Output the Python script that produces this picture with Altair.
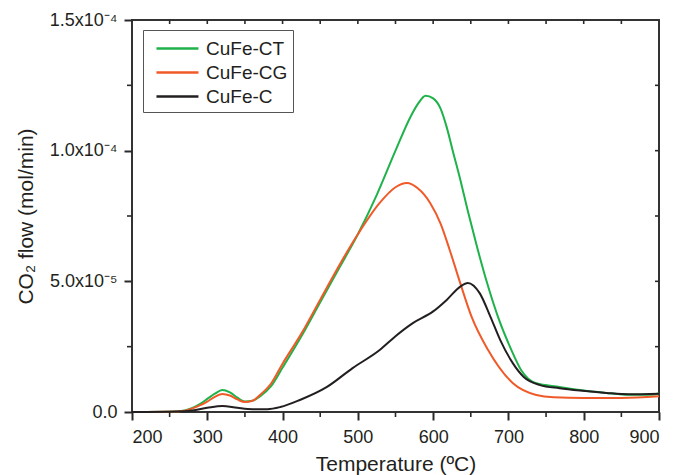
import altair as alt
import pandas as pd

# ---- data (values in 1e-6 mol/min) ----
t_ct = [200, 250, 270, 290, 300, 310, 320, 330, 340, 350, 360, 370, 385, 400, 425, 450, 475, 500,
        525, 550, 570, 580, 590, 600, 610, 618, 626, 636, 646, 658, 671, 686, 704, 717, 737, 768,
        795, 830, 860, 890, 900]
v_ct = [0, 0.1, 0.6, 3, 5, 7, 8.4, 7.5, 5.5, 4, 4.3, 6, 10, 17, 29, 42, 55, 68,
        83, 100, 113, 118, 121, 120, 116, 109, 100, 89, 77, 63.5, 50, 36.5, 23.7, 16, 11, 9.6,
        8.4, 7.3, 6.6, 6.6, 7.2]

t_cg = [200, 250, 270, 290, 300, 310, 320, 330, 340, 350, 360, 370, 385, 400, 425, 450, 475, 500,
        529, 550, 565, 580, 596, 610, 622, 636, 651, 673, 706, 737, 760, 800, 850, 900]
v_cg = [0, 0.1, 0.5, 2.5, 4, 5.8, 6.9, 6.3, 4.8, 3.8, 4.3, 6.5, 11, 18.5, 30, 43, 56, 68,
        80, 86, 87.6, 85.5, 80, 72, 62, 49.3, 36.5, 23.7, 11, 6.5, 5.6, 5.4, 5.4, 6.0]

t_c = [200, 260, 280, 300, 320, 340, 360, 380, 397, 423, 459, 493, 529, 550, 573, 600, 618, 636,
       646, 662, 676, 689, 706, 720, 742, 768, 795, 830, 860, 900]
v_c = [0, 0.2, 0.6, 1.6, 2.3, 1.6, 1.1, 1.1, 1.9, 4.6, 9.6, 16.8, 23.7, 29, 34, 38.5, 42.9, 48,
       49.4, 45.4, 36.5, 27.6, 18.6, 13.5, 10.3, 9.1, 8.2, 7.3, 6.8, 7.0]

series = ["CuFe-CT", "CuFe-CG", "CuFe-C"]
colors = ["#1fb24a", "#f05a28", "#231f20"]

x_major = [200, 300, 400, 500, 600, 700, 800, 900]
x_minor = [250, 350, 450, 550, 650, 750, 850]
y_major = [0, 5e-5, 1e-4, 1.5e-4]
y_minor = [2.5e-5, 7.5e-5, 1.25e-4]

rows = []
for name, ts, vs in zip(series, [t_ct, t_cg, t_c], [v_ct, v_cg, v_c]):
    for t, v in zip(ts, vs):
        rows.append({"T": t, "flow": v * 1e-6, "sample": name})
df = pd.DataFrame(rows)

W, H = 527, 392
FONT = "Liberation Sans"
INK = "#231f20"
TICK = "#2a2a2a"

xscale = alt.Scale(domain=[200, 900], nice=False)
yscale = alt.Scale(domain=[0, 1.5e-4], nice=False)

ylabel = ("round(datum.value*1e6)==0 ? '0.0' : round(datum.value*1e6)==50 ? '5.0x10⁻⁵' : "
          "round(datum.value*1e6)==100 ? '1.0x10⁻⁴' : '1.5x10⁻⁴'")

lines = alt.Chart(df).mark_line(strokeWidth=2, interpolate="monotone").encode(
    x=alt.X("T:Q", scale=xscale,
            axis=alt.Axis(values=x_major, format="d", title="Temperature (ºC)",
                          ticks=True, tickSize=8, tickOpacity=1, grid=False, domain=False,
                          tickColor=TICK, tickWidth=2,
                          labelFontSize=18, titleFontSize=21, labelFont=FONT, titleFont=FONT,
                          labelColor=INK, titleColor=INK, titleFontWeight="normal",
                          labelPadding=8, titleY=58, titleBaseline="alphabetic")),
    y=alt.Y("flow:Q", scale=yscale,
            axis=alt.Axis(values=y_major, labelExpr=ylabel, title="CO₂ flow (mol/min)",
                          ticks=True, tickSize=8, tickOpacity=1, grid=False, domain=False,
                          tickColor=TICK, tickWidth=2,
                          labelFontSize=18, titleFontSize=21, labelFont=FONT, titleFont=FONT,
                          labelColor=INK, titleColor=INK, titleFontWeight="normal",
                          labelPadding=7, titleX=-100, titleBaseline="alphabetic")),
    color=alt.Color("sample:N", sort=series,
                    scale=alt.Scale(domain=series, range=colors),
                    legend=alt.Legend(title=None, orient="none", legendX=11, legendY=10,
                                      symbolType="M-0.42,0L3.08,0", symbolSize=576,
                                      symbolStrokeWidth=2.5,
                                      labelFontSize=19, labelFont=FONT, labelColor=INK,
                                      strokeColor="#555", padding=5, rowPadding=0,
                                      fillColor="white", labelOffset=31)),
)

tick_style = dict(color=TICK, strokeWidth=1.6)
top_ticks = alt.Chart(pd.DataFrame({"T": x_major[1:-1] + x_minor})).mark_rule(**tick_style).encode(
    x=alt.X("T:Q", scale=xscale), y=alt.value(0), y2=alt.value(4))
bottom_minor = alt.Chart(pd.DataFrame({"T": x_minor})).mark_rule(**tick_style).encode(
    x=alt.X("T:Q", scale=xscale), y=alt.value(H), y2=alt.value(H + 5))
right_ticks = alt.Chart(pd.DataFrame({"flow": y_major[1:-1] + y_minor})).mark_rule(**tick_style).encode(
    y=alt.Y("flow:Q", scale=yscale), x=alt.value(W), x2=alt.value(W - 4))
left_minor = alt.Chart(pd.DataFrame({"flow": y_minor})).mark_rule(**tick_style).encode(
    y=alt.Y("flow:Q", scale=yscale), x=alt.value(0), x2=alt.value(-5))

chart = alt.layer(lines, top_ticks, bottom_minor, right_ticks, left_minor).properties(
    width=W, height=H,
    autosize=alt.AutoSizeParams(type="none"),
    padding={"left": 124, "top": 12, "right": 5, "bottom": 63},
).configure_view(stroke="#333", strokeWidth=2)

chart.save("out.html", embed_options={"renderer": "svg", "actions": False})
